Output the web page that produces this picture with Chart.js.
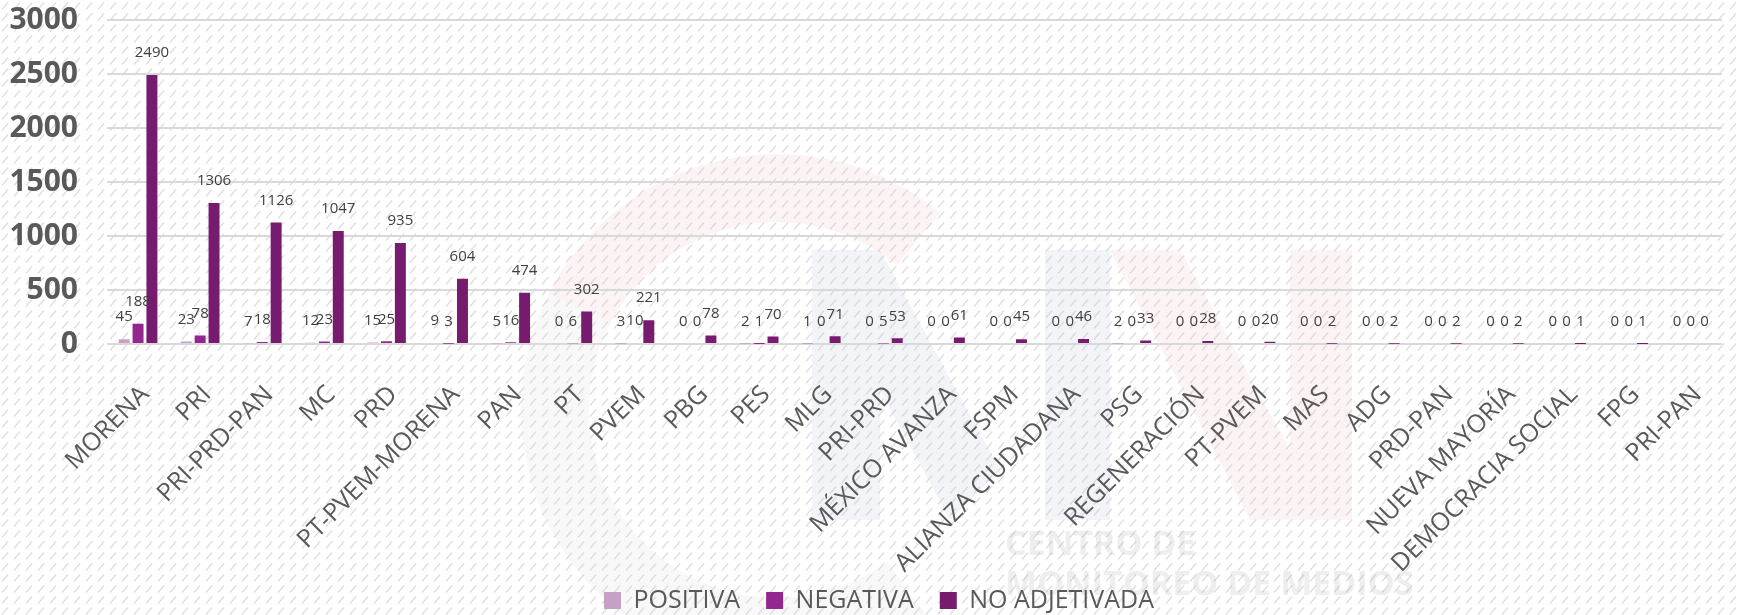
<!DOCTYPE html>
<html>
<head>
<meta charset="utf-8">
<title>Menciones por partido</title>
<script src="https://cdn.jsdelivr.net/npm/chart.js@4.4.1/dist/chart.umd.min.js"></script>
<style>
    html, body { margin: 0; padding: 0; background: #fff; }
    #wrap { width: 1740px; height: 615px; }
</style>
</head>
<body>
<div id="wrap"><canvas id="partidosChart" width="1740" height="615"></canvas></div>
<script>
// datos
const partidos = ['MORENA', 'PRI', 'PRI-PRD-PAN', 'MC', 'PRD', 'PT-PVEM-MORENA', 'PAN', 'PT', 'PVEM', 'PBG',
    'PES', 'MLG', 'PRI-PRD', 'MÉXICO AVANZA', 'FSPM', 'ALIANZA CIUDADANA', 'PSG', 'REGENERACIÓN', 'PT-PVEM',
    'MAS', 'ADG', 'PRD-PAN', 'NUEVA MAYORÍA', 'DEMOCRACIA SOCIAL', 'FPG', 'PRI-PAN'];
const positiva = [45, 23, 7, 12, 15, 9, 5, 0, 3, 0, 2, 1, 0, 0, 0, 0, 2, 0, 0, 0, 0, 0, 0, 0, 0, 0];
const negativa = [188, 78, 18, 23, 25, 3, 16, 6, 10, 0, 1, 0, 5, 0, 0, 0, 0, 0, 0, 0, 0, 0, 0, 0, 0, 0];
const noAdjetivada = [2490, 1306, 1126, 1047, 935, 604, 474, 302, 221, 78, 70, 71, 53, 61, 45, 46, 33, 28, 20,
    2, 2, 2, 2, 1, 1, 0];
const yTicks = [0, 500, 1000, 1500, 2000, 2500, 3000];

const FONT = '"Open Sans", "Noto Sans", sans-serif';

// fondo rayado + marca de agua
const fondoPlugin = {
    id: 'fondo',
    beforeDraw(chart) {
        const ctx = chart.ctx;
        const w = chart.width, h = chart.height;
        ctx.save();
        ctx.fillStyle = '#ffffff';
        ctx.fillRect(0, 0, w, h);

        const tile = document.createElement('canvas');
        tile.width = 12;
        tile.height = 11;
        const t = tile.getContext('2d');
        t.strokeStyle = '#dedede';
        t.lineWidth = 1.3;
        t.beginPath();
        t.moveTo(2, 9.5);
        t.lineTo(8, 2.5);
        t.stroke();
        ctx.fillStyle = ctx.createPattern(tile, 'repeat');
        ctx.fillRect(0, 0, w, h);

        // logo tenue
        ctx.globalAlpha = 0.22;
        ctx.lineWidth = 68;
        ctx.strokeStyle = '#e0e0e0';
        ctx.beginPath();
        ctx.arc(777, 410, 222, 0.3 * Math.PI, 1.15 * Math.PI);
        ctx.stroke();
        ctx.strokeStyle = '#f2c9cd';
        ctx.beginPath();
        ctx.arc(777, 410, 222, 1.15 * Math.PI, 1.72 * Math.PI);
        ctx.stroke();

        ctx.fillStyle = '#c9cddd';
        ctx.beginPath();
        ctx.moveTo(812, 250); ctx.lineTo(880, 250); ctx.lineTo(1000, 470); ctx.lineTo(950, 520);
        ctx.lineTo(880, 390); ctx.lineTo(880, 520); ctx.lineTo(812, 520);
        ctx.closePath();
        ctx.fill();
        ctx.fillRect(1045, 250, 65, 270);
        ctx.fillStyle = '#f2c9cd';
        ctx.beginPath();
        ctx.moveTo(1110, 250); ctx.lineTo(1180, 250); ctx.lineTo(1290, 450); ctx.lineTo(1290, 520);
        ctx.lineTo(1250, 520);
        ctx.closePath();
        ctx.fill();
        ctx.fillRect(1290, 250, 62, 270);

        ctx.globalAlpha = 0.22;
        ctx.fillStyle = '#b0b0b0';
        ctx.font = 'bold 34px ' + FONT;
        ctx.textAlign = 'left';
        ctx.textBaseline = 'middle';
        ctx.fillText('CENTRO DE', 1005, 545);
        ctx.fillText('MONITOREO DE MEDIOS', 1005, 585);
        ctx.restore();
    }
};

// etiquetas de valor sobre cada barra
const etiquetasPlugin = {
    id: 'etiquetas',
    afterDatasetsDraw(chart) {
        const ctx = chart.ctx;
        ctx.save();
        ctx.font = '15px ' + FONT;
        ctx.fillStyle = '#404040';
        ctx.textAlign = 'center';
        ctx.textBaseline = 'middle';
        chart.data.datasets.forEach((ds, i) => {
            chart.getDatasetMeta(i).data.forEach((bar, j) => {
                ctx.fillText(String(ds.data[j]), bar.x, bar.y - 22);
            });
        });
        ctx.restore();
    }
};

// leyenda un poco a la derecha; etiquetas largas del eje x sin recortar
const ajustes = {
    id: 'ajustes',
    afterLayout(chart) {
        chart.legend.left += 9;
        chart.legend.right += 9;
        chart.scales.x.bottom = chart.height;
    }
};

new Chart(document.getElementById('partidosChart'), {
    type: 'bar',
    data: {
        labels: partidos,
        datasets: [
            { label: 'POSITIVA', data: positiva, backgroundColor: '#c7a0c6' },
            { label: 'NEGATIVA', data: negativa, backgroundColor: '#93278f' },
            { label: 'NO ADJETIVADA', data: noAdjetivada, backgroundColor: '#771b6e' }
        ]
    },
    options: {
        responsive: false,
        animation: false,
        devicePixelRatio: 1,
        categoryPercentage: 0.67,
        barPercentage: 0.79,
        layout: { padding: { top: 20, right: 0, bottom: -8, left: 0 } },
        scales: {
            y: {
                min: 0,
                max: 3000,
                afterBuildTicks: (scale) => { scale.ticks = yTicks.map(v => ({ value: v })); },
                afterFit: (scale) => { scale.width = 107; },
                ticks: {
                    padding: 0,
                    color: '#595959',
                    font: { family: FONT, size: 30, weight: 'bold' },
                    callback: (v) => String(v)
                },
                grid: { color: '#d9d9d9', lineWidth: 2, drawTicks: true, tickLength: 29, tickColor: 'rgba(0,0,0,0)' },
                border: { display: false }
            },
            x: {
                afterFit: (scale) => { scale.height = 218; },
                ticks: {
                    autoSkip: false,
                    maxRotation: 45,
                    minRotation: 45,
                    padding: 28,
                    labelOffset: 7,
                    color: '#595959',
                    font: { family: FONT, size: 25 }
                },
                grid: { display: false },
                border: { display: false }
            }
        },
        plugins: {
            legend: {
                position: 'bottom',
                labels: {
                    boxWidth: 17,
                    boxHeight: 17,
                    padding: 26,
                    color: '#595959',
                    font: { family: FONT, size: 25 }
                }
            },
            tooltip: { enabled: false }
        }
    },
    plugins: [fondoPlugin, etiquetasPlugin, ajustes]
});
</script>
</body>
</html>
